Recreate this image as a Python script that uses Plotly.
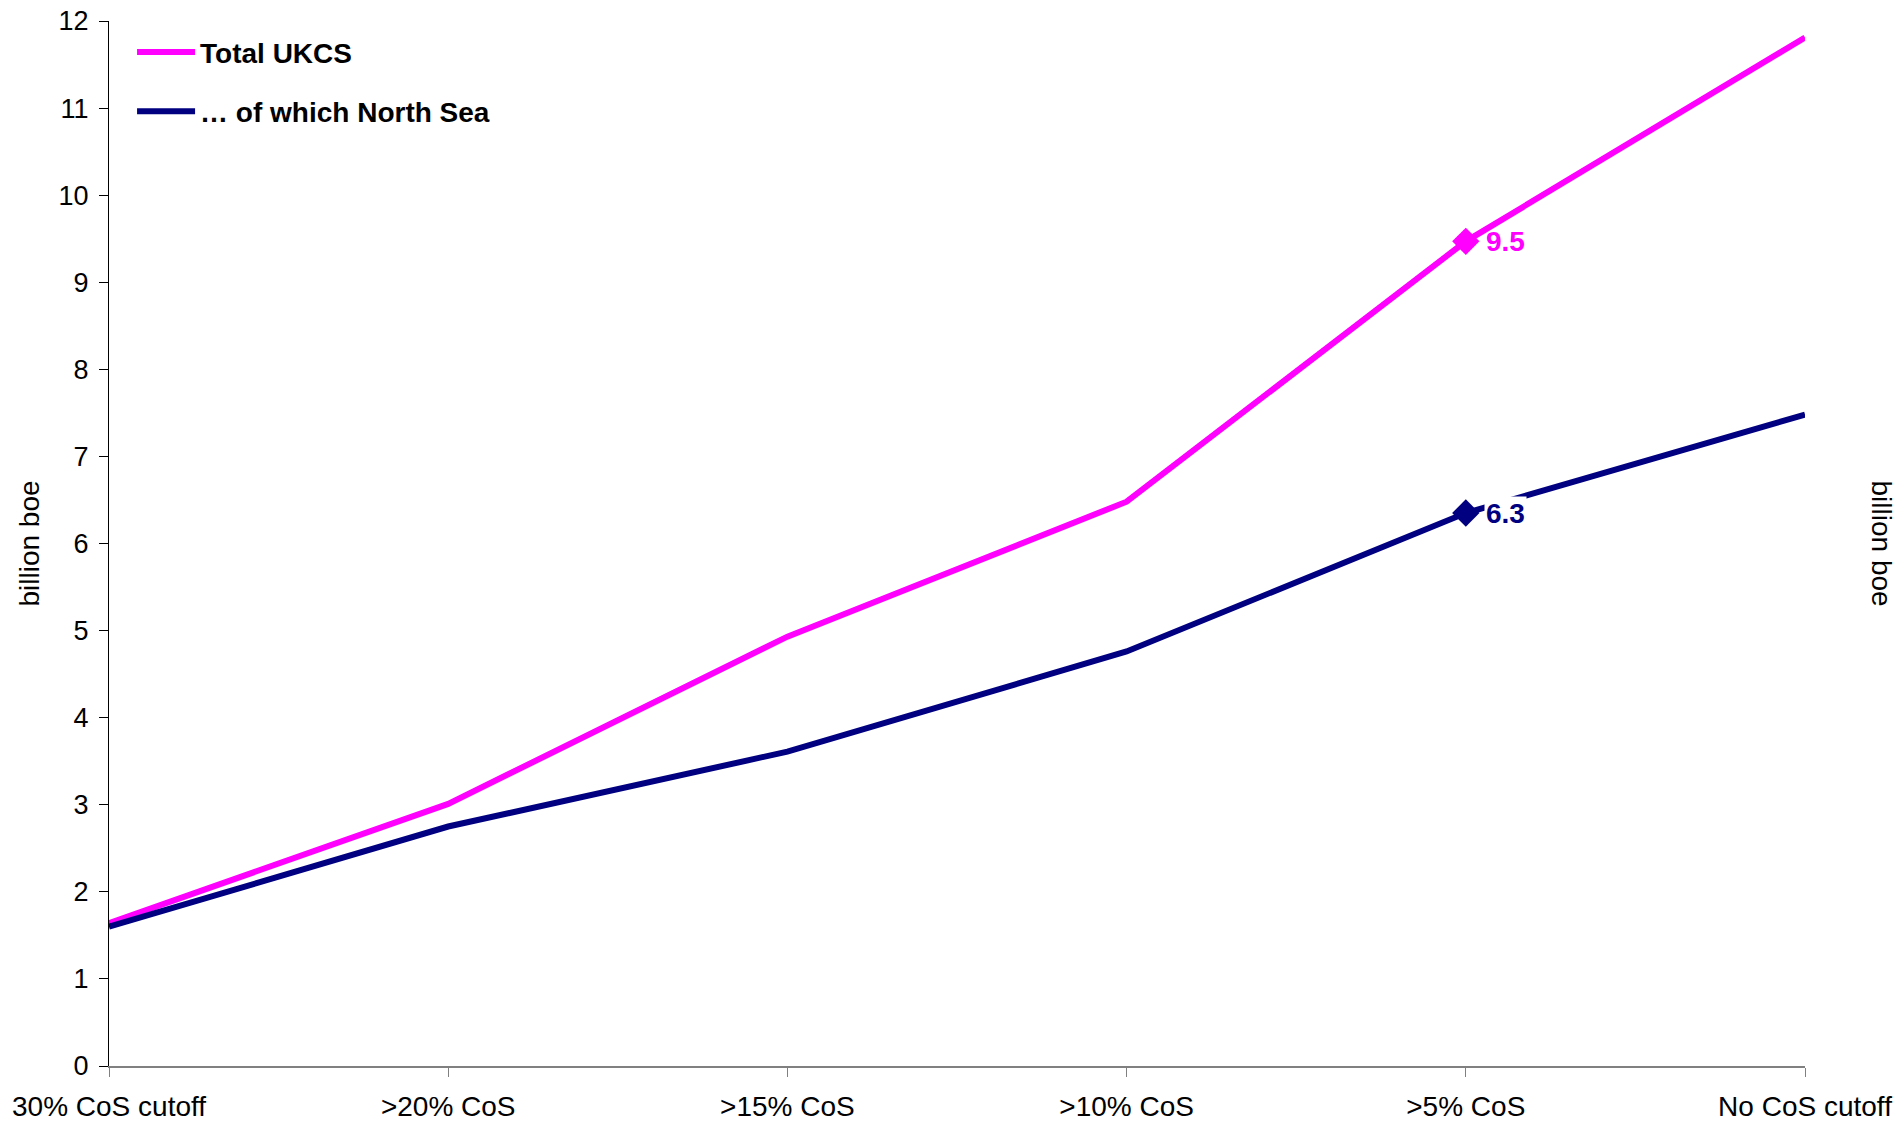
import plotly.graph_objects as go

categories = ["30% CoS cutoff", ">20% CoS", ">15% CoS", ">10% CoS", ">5% CoS", "No CoS cutoff"]
total_ukcs = [1.64, 3.01, 4.93, 6.48, 9.47, 11.81]
north_sea = [1.60, 2.75, 3.61, 4.76, 6.35, 7.48]
y_ticks = list(range(0, 13))
label_total = "9.5"
label_north = "6.3"
label_index = 4

MAGENTA = "#FF00FF"
NAVY = "#000080"
FONT = "Liberation Sans, Arial, sans-serif"

marker_sizes = [0] * len(categories)
marker_sizes[label_index] = 21

fig = go.Figure()
fig.add_trace(go.Scatter(
    x=categories, y=total_ukcs, name="Total UKCS", mode="lines+markers",
    legendgroup="a",
    line=dict(color=MAGENTA, width=6),
    marker=dict(symbol="diamond", size=marker_sizes, color=MAGENTA, opacity=1, line=dict(width=0)),
))
fig.add_trace(go.Scatter(
    x=categories, y=north_sea, name="\u2026 of which North Sea", mode="lines+markers",
    legendgroup="b",
    line=dict(color=NAVY, width=6),
    marker=dict(symbol="diamond", size=marker_sizes, color=NAVY, opacity=1, line=dict(width=0)),
))

fig.add_annotation(x=categories[label_index], y=total_ukcs[label_index], text=label_total,
                   showarrow=False, xanchor="left", yanchor="middle", xshift=18,
                   font=dict(family=FONT, size=28, color=MAGENTA, weight="bold"))
fig.add_annotation(x=categories[label_index], y=north_sea[label_index], text=label_north,
                   showarrow=False, xanchor="left", yanchor="middle", xshift=18,
                   bgcolor="white", borderpad=1,
                   font=dict(family=FONT, size=28, color=NAVY, weight="bold"))

# right axis title (reads top to bottom)
fig.add_annotation(xref="paper", yref="paper", x=1.0, y=0.5, xshift=76, text="billion boe",
                   textangle=90, showarrow=False, xanchor="center", yanchor="middle",
                   font=dict(family=FONT, size=28, color="black"))

fig.update_layout(
    width=1901, height=1121,
    margin=dict(l=109, r=96, t=21, b=55, autoexpand=False),
    paper_bgcolor="white", plot_bgcolor="white",
    font=dict(family=FONT, color="black", size=27),
    showlegend=True,
    legend=dict(x=0.0136, y=0.994, xanchor="left", yanchor="top",
                bgcolor="rgba(0,0,0,0)", itemwidth=58,
                font=dict(family=FONT, size=28, color="black", weight="bold"),
                traceorder="grouped", tracegroupgap=20),
    xaxis=dict(type="category", range=[0, len(categories) - 1], automargin=False,
               showline=True, linecolor="#808080", linewidth=2,
               ticks="outside", ticklen=9, tickcolor="#808080", tickwidth=1,
               ticklabelstandoff=5,
               showgrid=False, zeroline=False,
               tickfont=dict(family=FONT, size=28, color="black")),
    yaxis=dict(range=[0, 12], tickvals=y_ticks, automargin=False,
               showline=True, linecolor="black", linewidth=1,
               ticks="outside", ticklen=9, tickcolor="black",
               ticklabelstandoff=5,
               showgrid=False, zeroline=False,
               tickfont=dict(family=FONT, size=27, color="black"),
               title=dict(text="billion boe", font=dict(family=FONT, size=28, color="black"), standoff=10)),
    yaxis2=dict(range=[0, 12], tickvals=y_ticks, overlaying="y", side="right", anchor="x",
                automargin=False,
                showline=True, linecolor="black", linewidth=1,
                ticks="outside", ticklen=9, tickcolor="black",
                ticklabelstandoff=12,
                showgrid=False, zeroline=False,
                tickfont=dict(family=FONT, size=27, color="black")),
)

fig.write_html("out.html")
